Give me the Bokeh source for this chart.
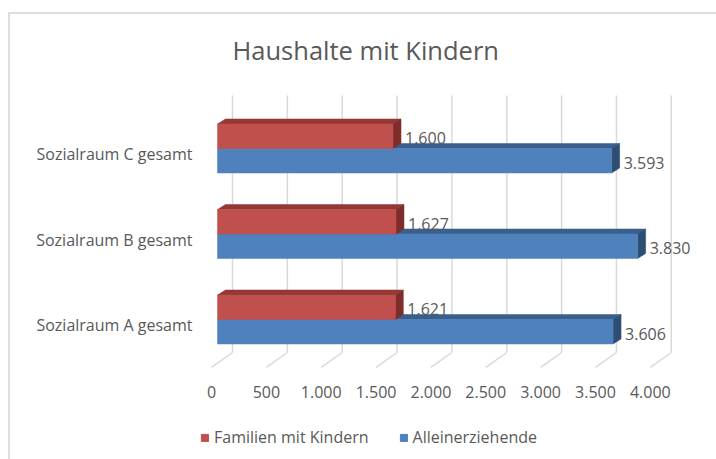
from bokeh.plotting import figure
from bokeh.layouts import column
from bokeh.models import (Range1d, LinearAxis, FixedTicker, Legend, LegendItem)
from bokeh.embed import file_html
from bokeh.resources import INLINE
from bokeh.core.properties import value

# ---- data ----
categories = ["Sozialraum A gesamt", "Sozialraum B gesamt", "Sozialraum C gesamt"]
familien = [1621, 1627, 1600]
allein = [3606, 3830, 3593]
series_names = ["Familien mit Kindern", "Alleinerziehende"]
x_ticks = [0, 500, 1000, 1500, 2000, 2500, 3000, 3500, 4000]
x_tick_labels = ["0", "500", "1.000", "1.500", "2.000", "2.500", "3.000", "3.500", "4.000"]

def de(v):
    return f"{v:,}".replace(",", ".")

# ---- geometry (styling constants) ----
UPX = 9.116          # data units per pixel, horizontally
YPX = 1 / 85.5       # category units per pixel, vertically
X0, X1 = -17 * UPX, -17 * UPX + 500 * UPX
Y0, Y1 = -0.655, 2.678
BACK = 15 * UPX
FRONT = 6 * UPX
DX = 8 * UPX
DY = 5 * YPX
H = 24.5 * YPX
WALL_TOP, WALL_BOT, FLOOR_FRONT = 2.62, -0.386, -0.561

FONT = "Open Sans"
GREY = "#595959"
RED, RED_TOP, RED_SIDE = "#C0504D", "#953735", "#7F2C2A"
BLUE, BLUE_TOP, BLUE_SIDE = "#4F81BD", "#3A5F8C", "#2E4D73"
GRID = "#D9D9D9"
BORDER = "#DDDDDD"

p = figure(width=716, height=410, output_backend="svg", toolbar_location=None,
           x_range=Range1d(X0, X1), y_range=Range1d(Y0, Y1),
           x_axis_location=None, y_axis_location=None,
           min_border_left=200, min_border_right=16, min_border_top=90,
           min_border_bottom=35, outline_line_color=None,
           background_fill_color="white", border_fill_color=None)
p.xgrid.visible = False
p.ygrid.visible = False

# title
p.title.text = "Haushalte mit Kindern"
p.title.text_font = FONT
p.title.text_font_size = "25.5px"
p.title.text_font_style = "normal"
p.title.text_color = GREY
p.title.align = "left"
p.title.offset = 32
p.title.standoff = 47

# back wall gridlines and floor diagonals
gx = [t + BACK for t in x_ticks]
p.segment(x0=gx, y0=[WALL_BOT] * len(gx), x1=gx, y1=[WALL_TOP] * len(gx),
          line_color=GRID, line_width=1.5)
p.segment(x0=gx, y0=[WALL_BOT] * len(gx), x1=[t - FRONT for t in x_ticks],
          y1=[FLOOR_FRONT] * len(gx), line_color=GRID, line_width=1.5)

cat_pos = list(range(len(categories)))

def bar3d(vals, ybot, front, top, side):
    n = len(vals)
    ytop = [y + H for y in ybot]
    xs_t = [[0, DX, v + DX, v] for v in vals]
    ys_t = [[yt, yt + DY, yt + DY, yt] for yt in ytop]
    p.patches(xs_t, ys_t, fill_color=top, line_color=top, line_width=0.5)
    xs_s = [[v, v, v + DX, v + DX] for v in vals]
    ys_s = [[yb, yt, yt + DY, yb + DY] for yb, yt in zip(ybot, ytop)]
    p.patches(xs_s, ys_s, fill_color=side, line_color=side, line_width=0.5)
    return p.quad(left=[0] * n, right=vals, bottom=ybot, top=ytop,
                  fill_color=front, line_color=front, line_width=0.5)

bar3d(allein, [c - H for c in cat_pos], BLUE, BLUE_TOP, BLUE_SIDE)
bar3d(familien, cat_pos, RED, RED_TOP, RED_SIDE)

# data labels
p.text(x=familien, y=[c + H / 2 for c in cat_pos], text=[de(v) for v in familien],
       x_offset=12, y_offset=2, text_baseline="middle", text_font=value(FONT),
       text_font_size="16px", text_color=GREY)
p.text(x=allein, y=[c - H / 2 for c in cat_pos], text=[de(v) for v in allein],
       x_offset=12, y_offset=2, text_baseline="middle", text_font=value(FONT),
       text_font_size="16px", text_color=GREY)

# axes
p.extra_x_ranges = {"front": Range1d(X0 + FRONT, X1 + FRONT)}
p.extra_y_ranges = {"cat": Range1d(Y0 + 6 * YPX, Y1 + 6 * YPX)}
xa = LinearAxis(x_range_name="front", ticker=FixedTicker(ticks=x_ticks),
                major_label_overrides={t: l for t, l in zip(x_ticks, x_tick_labels)})
ya = LinearAxis(y_range_name="cat", ticker=FixedTicker(ticks=cat_pos),
                major_label_overrides={c: n for c, n in zip(cat_pos, categories)})
for ax, so in ((xa, 4), (ya, 2)):
    ax.axis_line_color = None
    ax.major_tick_line_color = None
    ax.minor_tick_line_color = None
    ax.major_label_text_font = FONT
    ax.major_label_text_font_size = "16px"
    ax.major_label_text_color = GREY
    ax.major_label_standoff = so
p.add_layout(xa, "below")
p.add_layout(ya, "left")

# legend strip (separate small figure below the chart)
lf = figure(width=716, height=49, output_backend="svg", toolbar_location=None,
            title=None, x_range=Range1d(0, 1), y_range=Range1d(0, 1),
            x_axis_location=None, y_axis_location=None,
            min_border_left=195, min_border_right=0, min_border_top=5,
            min_border_bottom=0, outline_line_color=None,
            border_fill_color=None, background_fill_color=None)
lf.xgrid.visible = False
lf.ygrid.visible = False
lr = lf.quad(left=[5], right=[6], bottom=[5], top=[6], fill_color=RED, line_color=RED)
lb = lf.quad(left=[5], right=[6], bottom=[5], top=[6], fill_color=BLUE, line_color=BLUE)
legend = Legend(items=[LegendItem(label=series_names[0], renderers=[lr]),
                       LegendItem(label=series_names[1], renderers=[lb])],
                orientation="horizontal", location="left",
                label_text_font=FONT, label_text_font_size="16px",
                label_text_color=GREY, glyph_width=9, glyph_height=9,
                label_standoff=5, spacing=30, padding=0, margin=0,
                border_line_color=None, background_fill_alpha=0)
lf.add_layout(legend)

# chart-area border: only its top and left edges fall inside the picture
bg = (f"linear-gradient({BORDER}, {BORDER}) 8px 12px / 100% 2px no-repeat, "
      f"linear-gradient({BORDER}, {BORDER}) 8px 12px / 2px 100% no-repeat, white")
layout = column(p, lf, spacing=0, styles={"background": bg})

open("out.html", "w").write(file_html(layout, INLINE))
